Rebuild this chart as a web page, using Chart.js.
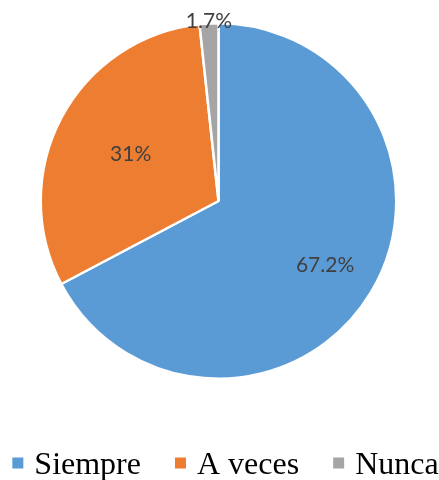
<!DOCTYPE html>
<html>
<head>
<meta charset="utf-8">
<script src="https://cdn.jsdelivr.net/npm/chart.js@4/dist/chart.umd.min.js"></script>
<style>
  html, body { margin: 0; padding: 0; background: #ffffff; }
  #wrap { width: 439px; height: 480px; position: relative; }
</style>
</head>
<body>
<div id="wrap"><canvas id="chart"></canvas></div>
<script>
// Response categories and their shares (%)
const categories = ['Siempre', 'A veces', 'Nunca'];
const shares = [67.2, 31, 1.7];
const sliceColors = ['#5B9BD5', '#ED7D31', '#A5A5A5'];

// Radial position of each value label, as a fraction of the outer radius
const labelRadius = [0.70, 0.56, 1.01];

// Draws the percentage labels at each slice's mid-angle
const sliceLabels = {
  id: 'sliceLabels',
  afterDatasetsDraw(chart) {
    const ctx = chart.ctx;
    const meta = chart.getDatasetMeta(0);
    ctx.save();
    ctx.font = '21px Lato, "Open Sans", sans-serif';
    ctx.fillStyle = '#404040';
    ctx.textAlign = 'center';
    ctx.textBaseline = 'middle';
    meta.data.forEach((arc, i) => {
      const p = arc.getProps(['x', 'y', 'startAngle', 'endAngle', 'outerRadius'], true);
      const mid = (p.startAngle + p.endAngle) / 2;
      const r = p.outerRadius * labelRadius[i];
      ctx.fillText(shares[i] + '%', p.x + Math.cos(mid) * r, p.y + Math.sin(mid) * r);
    });
    ctx.restore();
  }
};

// Legend row under the pie
const legendRow = {
  id: 'legendRow',
  afterDraw(chart) {
    const ctx = chart.ctx;
    ctx.save();
    ctx.font = '32px "Liberation Serif", "Times New Roman", serif';
    ctx.textBaseline = 'alphabetic';
    ctx.textAlign = 'left';
    const box = 11, gapText = 11, gapItem = 34;
    const widths = categories.map(c => ctx.measureText(c).width);
    const total = widths.reduce((a, w) => a + box + gapText + w, 0) + gapItem * (categories.length - 1);
    let x = (chart.width - total) / 2 + 6;
    const yc = 463;
    categories.forEach((c, i) => {
      ctx.fillStyle = sliceColors[i];
      ctx.fillRect(x, yc - box / 2, box, box);
      ctx.fillStyle = '#000000';
      ctx.fillText(c, x + box + gapText, yc + 10.5);
      x += box + gapText + widths[i] + gapItem;
    });
    ctx.restore();
  }
};

new Chart(document.getElementById('chart'), {
  type: 'pie',
  data: {
    labels: categories,
    datasets: [{
      data: shares,
      backgroundColor: sliceColors,
      borderColor: '#ffffff',
      borderWidth: 2.5
    }]
  },
  options: {
    responsive: true,
    maintainAspectRatio: false,
    animation: false,
    layout: { padding: { top: 22, bottom: 100, left: 0, right: 2 } },
    plugins: {
      legend: { display: false },
      tooltip: { enabled: false }
    }
  },
  plugins: [sliceLabels, legendRow]
});
</script>
</body>
</html>
